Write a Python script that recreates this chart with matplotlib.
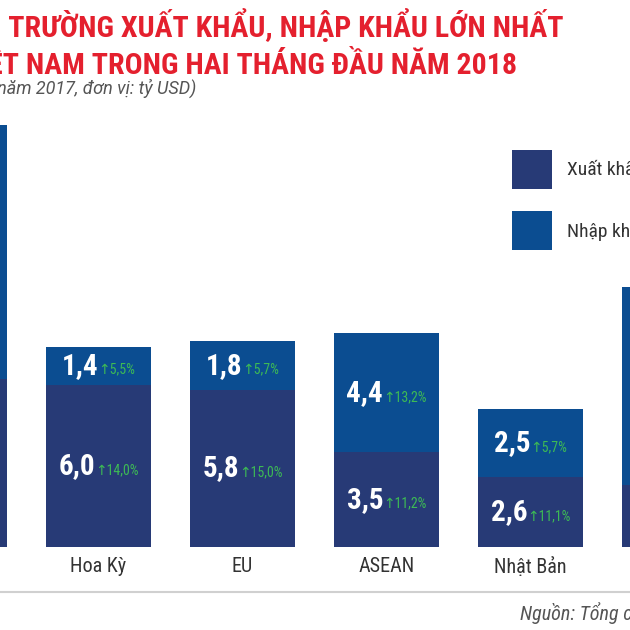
import matplotlib

matplotlib.use("Agg")
import matplotlib.pyplot as plt
from matplotlib import font_manager
from matplotlib.offsetbox import AnnotationBbox, HPacker, TextArea

# values in billion USD (ty USD), first two months of 2018
markets = ["Trung Quốc", "Hoa Kỳ", "EU", "ASEAN", "Nhật Bản", "Hàn Quốc"]
exports = [6.2, 6.0, 5.8, 3.5, 2.6, 2.3]
imports = [9.4, 1.4, 1.8, 4.4, 2.5, 7.3]
export_growth = [None, "14,0%", "15,0%", "11,2%", "11,1%", None]
import_growth = [None, "5,5%", "5,7%", "13,2%", "5,7%", None]

title_lines = [
    "CÁC THỊ TRƯỜNG XUẤT KHẨU, NHẬP KHẨU LỚN NHẤT",
    "CỦA VIỆT NAM TRONG HAI THÁNG ĐẦU NĂM 2018",
]
subtitle = "(Tăng so với cùng kỳ năm 2017, đơn vị: tỷ USD)"
legend_labels = ["Xuất khẩu", "Nhập khẩu"]
source = "Nguồn: Tổng cục Hải quan"

EXPORT_COLOR = "#273a76"
IMPORT_COLOR = "#0b4d91"
GROWTH_COLOR = "#3dba55"
TITLE_COLOR = "#e4202e"

installed = {f.name for f in font_manager.fontManager.ttflist}
base_font = "Roboto"
for name in ["Roboto Condensed", "Liberation Sans Narrow"]:
    if name in installed:
        base_font = name
        break
FONT = [base_font, "DejaVu Sans"]
plt.rcParams["font.family"] = FONT

W = H = 630
fig = plt.figure(figsize=(6.3, 6.3), dpi=100)
fig.patch.set_facecolor("white")

# bar axes laid out in pixels: 144 px per category, 27.05 px per ty USD,
# the first and last markets fall partly outside the visible frame
px_per_unit = 27.05
first_center = -45.5
step = 144
baseline_y = 547
ymax = 16.5
ax_left = first_center - step / 2
ax_width = step * len(markets)
ax_height = ymax * px_per_unit
ax = fig.add_axes([ax_left / W, (H - baseline_y) / H, ax_width / W, ax_height / H])
ax.set_xlim(-0.5, len(markets) - 0.5)
ax.set_ylim(0, ymax)
ax.axis("off")

positions = list(range(len(markets)))
bar_width = 105 / step
ax.bar(positions, exports, width=bar_width, color=EXPORT_COLOR, linewidth=0)
ax.bar(positions, imports, width=bar_width, bottom=exports, color=IMPORT_COLOR,
       linewidth=0)


def value_label(x, y, value, growth):
    number = TextArea(f"{value:.1f}".replace(".", ","),
                      textprops=dict(color="white", fontsize=21,
                                     fontweight="bold", family=FONT))
    change = TextArea("↑" + growth,
                      textprops=dict(color=GROWTH_COLOR, fontsize=10,
                                     family=FONT))
    box = HPacker(children=[number, change], align="baseline", pad=0, sep=0)
    ax.add_artist(AnnotationBbox(box, (x, y), frameon=False,
                                 box_alignment=(0.5, 0.5), pad=0))


for i, x in enumerate(positions):
    if export_growth[i] is not None:
        value_label(x, exports[i] / 2, exports[i], export_growth[i])
    if import_growth[i] is not None:
        value_label(x, exports[i] + imports[i] / 2, imports[i], import_growth[i])
    ax.annotate(markets[i], (x, 0), xytext=(0, -10), textcoords="offset pixels",
                ha="center", va="top", fontsize=14.5, color="#333333",
                annotation_clip=False)

# page furniture in pixel coordinates
page = fig.add_axes([0, 0, 1, 1], zorder=-1)
page.set_xlim(0, W)
page.set_ylim(H, 0)
page.axis("off")

page.text(563, 37, title_lines[0], ha="right", va="baseline", fontsize=21.5,
          fontweight="bold", color=TITLE_COLOR)
page.text(517, 74, title_lines[1], ha="right", va="baseline", fontsize=21.5,
          fontweight="bold", color=TITLE_COLOR)
page.text(196, 94, subtitle, ha="right", va="baseline", fontsize=13,
          style="italic", color="#555555", family=["Roboto", "DejaVu Sans"])

legend_colors = [EXPORT_COLOR, IMPORT_COLOR]
for k, (label, color) in enumerate(zip(legend_labels, legend_colors)):
    top = 150 + 61 * k
    page.add_patch(plt.Rectangle((512, top), 40, 39, color=color, linewidth=0))
    page.text(567, top + 20, label, ha="left", va="center", fontsize=14,
              color="#333333")

page.plot([0, W], [592, 592], color="#d0d0d0", linewidth=1.5)
page.text(520, 613, source, ha="left", va="center", fontsize=14.5,
          style="italic", color="#555555")

fig.savefig("out.png", dpi=100, facecolor="white")
